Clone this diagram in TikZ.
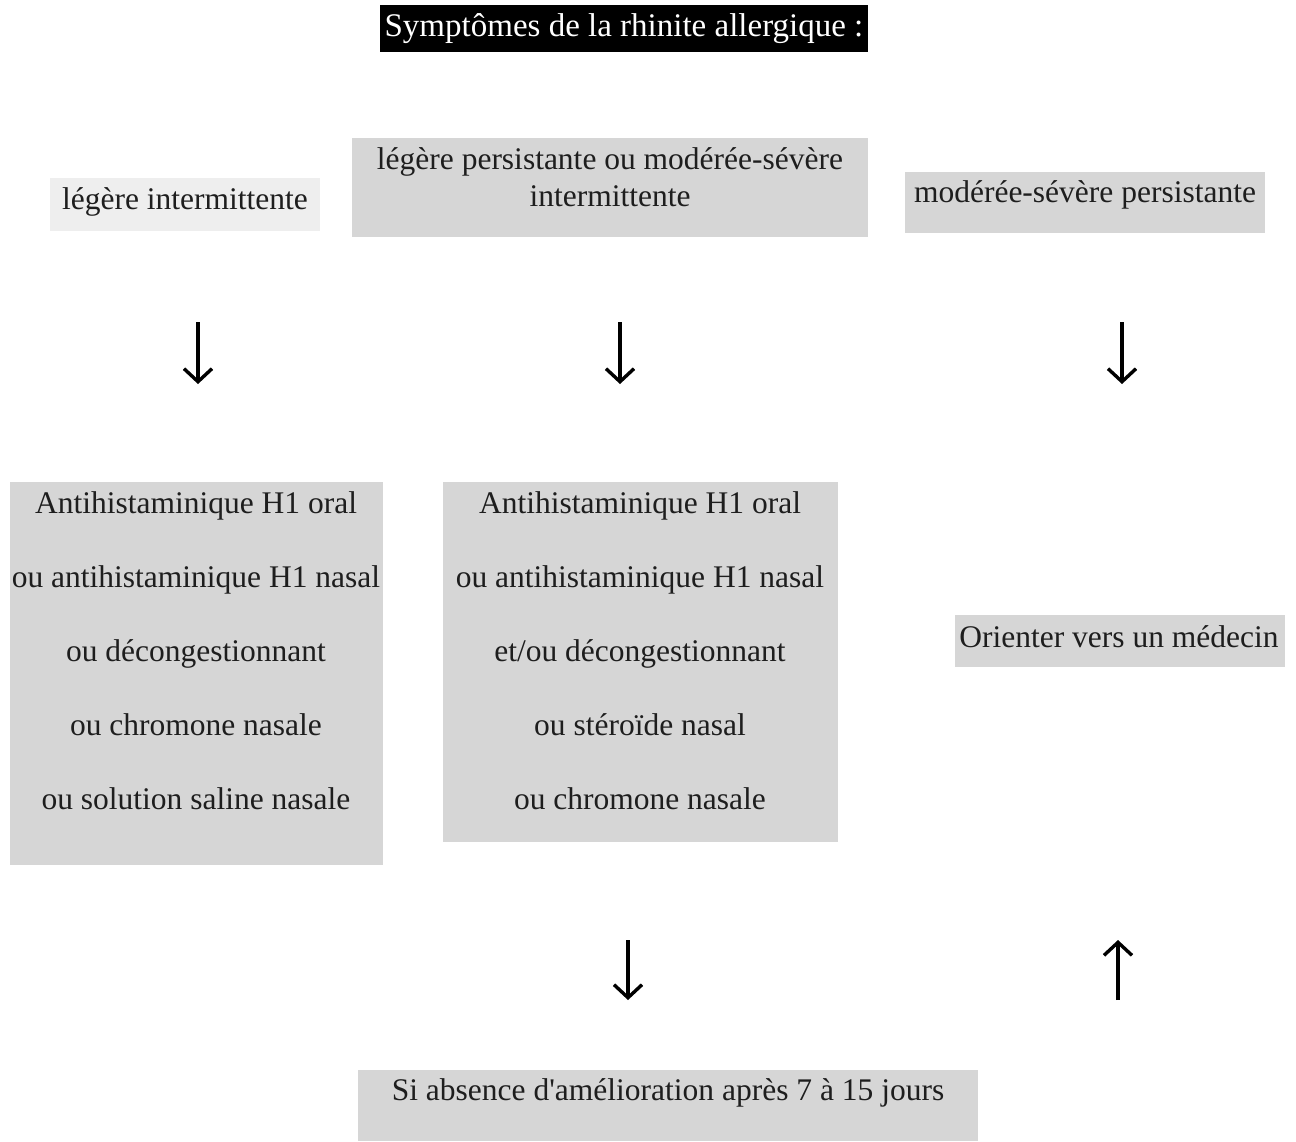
\documentclass[tikz,border=0pt]{standalone}
\usepackage{fontspec}
\setmainfont{Liberation Serif}
\usetikzlibrary{arrows.meta}
\definecolor{boxgray}{RGB}{214,214,214}
\definecolor{lightbox}{RGB}{238,238,238}
\definecolor{inkcol}{RGB}{30,30,30}
\tikzset{
  box/.style={draw=none, fill=boxgray, inner sep=0pt, rectangle},
  lightbx/.style={draw=none, fill=lightbox, inner sep=0pt, rectangle},
  titlebox/.style={draw=none, fill=black, inner sep=0pt, rectangle},
  txt/.style={inner sep=0pt, text=inkcol, align=center, font=\fontsize{31.5}{37}\selectfont},
  listtxt/.style={inner sep=0pt, text=inkcol, align=center, font=\fontsize{31.5}{74}\selectfont},
  arr/.style={line width=3.6pt, -{Straight Barb[length=13pt,width=28pt,line width=3.4pt]}}
}
\begin{document}
\begin{tikzpicture}[x=1pt,y=-1pt]
\useasboundingbox[fill=white] (0,0) rectangle (1296,1141);
% title
\node[titlebox, minimum width=488pt, minimum height=47pt] (title) at (624,28.5) {};
\node[txt, text=white, font=\fontsize{33}{38}\selectfont] (titlet) at (624,29) {Symptômes de la rhinite allergique :};
% top boxes
\node[lightbx, minimum width=270pt, minimum height=53pt] (A) at (185,204.5) {};
\node[txt] (At) at (185,202) {légère intermittente};
\node[box, minimum width=516pt, minimum height=99pt] (B) at (610,187.5) {};
\node[txt] (Bt) at (610,177) {légère persistante ou modérée-sévère\\intermittente};
\node[box, minimum width=360pt, minimum height=61pt] (C) at (1085,202.5) {};
\node[txt] (Ct) at (1085,195) {modérée-sévère persistante};
% arrows row 1
\coordinate (a1s) at (198,322); \coordinate (a1e) at (198,384);
\coordinate (a2s) at (620,322); \coordinate (a2e) at (620,384);
\coordinate (a3s) at (1122,322); \coordinate (a3e) at (1122,384);
\draw[arr] (a1s) -- (a1e);
\draw[arr] (a2s) -- (a2e);
\draw[arr] (a3s) -- (a3e);
% middle boxes
\node[box, minimum width=373pt, minimum height=383pt] (D) at (196.5,673.5) {};
\node[listtxt] (Dt) at (196,651) {Antihistaminique H1 oral\\ou antihistaminique H1 nasal\\ou décongestionnant\\ou chromone nasale\\ou solution saline nasale};
\node[box, minimum width=395pt, minimum height=360pt] (E) at (640.5,662) {};
\node[listtxt] (Et) at (640,651) {Antihistaminique H1 oral\\ou antihistaminique H1 nasal\\et/ou décongestionnant\\ou stéroïde nasal\\ou chromone nasale};
\node[box, minimum width=330pt, minimum height=52pt] (F) at (1120,641) {};
\node[txt] (Ft) at (1119,637) {Orienter vers un médecin};
% arrows row 2
\coordinate (a4s) at (628,940); \coordinate (a4e) at (628,1000);
\coordinate (a5s) at (1118,1000); \coordinate (a5e) at (1118,940);
\draw[arr] (a4s) -- (a4e);
\draw[arr] (a5s) -- (a5e);
% bottom box
\node[box, minimum width=620pt, minimum height=71pt] (G) at (668,1105.5) {};
\node[txt] (Gt) at (668,1093) {Si absence d\textquotesingle amélioration après 7 à 15 jours};
\end{tikzpicture}
\end{document}
